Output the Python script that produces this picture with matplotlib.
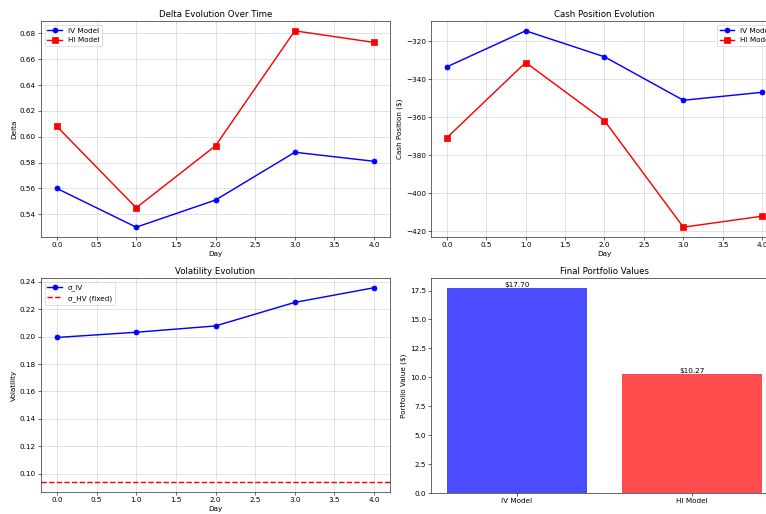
import matplotlib
matplotlib.use("Agg")
import matplotlib.pyplot as plt

days = [0, 1, 2, 3, 4]

delta_iv = [0.560, 0.530, 0.551, 0.588, 0.581]
delta_hi = [0.608, 0.545, 0.593, 0.682, 0.673]

cash_iv = [-333.4, -314.4, -328.1, -351.0, -346.8]
cash_hi = [-370.8, -331.1, -361.8, -417.9, -412.1]

sigma_iv = [0.1994, 0.2032, 0.2078, 0.2250, 0.2357]
sigma_hv = 0.0937

models = ["IV Model", "HI Model"]
final_values = [17.70, 10.27]

# reference looks like a 15x10 figure shrunk to ~52 dpi and cropped on the right
DPI = 51.84
W, H = 766, 514
fig = plt.figure(figsize=(W / DPI, H / DPI), dpi=DPI)


def box(l, t, r, b):
    return [l / W, 1 - b / H, (r - l) / W, (b - t) / H]


ax1 = fig.add_axes(box(41, 21, 390, 237))
ax2 = fig.add_axes(box(431, 21, 778, 237))
ax3 = fig.add_axes(box(41, 278, 390, 492))
ax4 = fig.add_axes(box(431, 278, 778, 493))

# Delta
ax1.plot(days, delta_iv, "b-o", label="IV Model", linewidth=2, markersize=7)
ax1.plot(days, delta_hi, "r-s", label="HI Model", linewidth=2, markersize=7)
ax1.set_title("Delta Evolution Over Time")
ax1.set_xlabel("Day")
ax1.set_ylabel("Delta")
ax1.legend(loc="upper left")
ax1.grid(True, alpha=0.6)

# Cash
ax2.plot(days, cash_iv, "b-o", label="IV Model", linewidth=2, markersize=7)
ax2.plot(days, cash_hi, "r-s", label="HI Model", linewidth=2, markersize=7)
ax2.set_title("Cash Position Evolution")
ax2.set_xlabel("Day")
ax2.set_ylabel("Cash Position ($)")
ax2.legend(loc="upper right")
ax2.grid(True, alpha=0.6)

# Volatility
ax3.plot(days, sigma_iv, "b-o", label="σ_IV", linewidth=2, markersize=7)
ax3.axhline(sigma_hv, color="r", linestyle="--", label="σ_HV (fixed)", linewidth=2)
ax3.set_title("Volatility Evolution")
ax3.set_xlabel("Day")
ax3.set_ylabel("Volatility")
ax3.legend(loc="upper left")
ax3.grid(True, alpha=0.6)

# Final values
bars = ax4.bar(models, final_values, color=["blue", "red"], alpha=0.7)
for bar, v in zip(bars, final_values):
    ax4.text(bar.get_x() + bar.get_width() / 2, bar.get_height(), f"${v:.2f}",
             ha="center", va="bottom")
ax4.set_title("Final Portfolio Values")
ax4.set_ylabel("Portfolio Value ($)")

fig.savefig("out.png", dpi=DPI)
